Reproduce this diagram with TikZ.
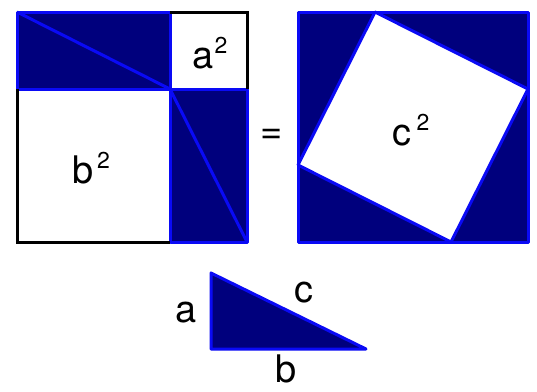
\documentclass[tikz,border=0pt]{standalone}
\usepackage{fontspec}
\setmainfont{TeX Gyre Heros}
\usetikzlibrary{positioning}
\definecolor{navyfill}{RGB}{0,0,125}
\definecolor{edgeblue}{RGB}{10,10,245}
\newcommand{\sqlab}[2]{#1\hspace{#2}\raisebox{15pt}{\fontsize{23}{23}\selectfont 2}}

\begin{document}
\begin{tikzpicture}[x=1pt,y=-1pt,
  dark/.style={fill=navyfill,draw=edgeblue,line width=3pt,line join=round},
  light/.style={fill=white,draw=edgeblue,line width=3pt,line join=round},
  diag/.style={draw=edgeblue,line width=3pt},
  frame/.style={draw=black,line width=3pt,line join=miter},
  lab/.style={font=\fontsize{38}{38}\selectfont,inner sep=0pt,anchor=base}
]
\useasboundingbox[fill=white] (0,0) rectangle (537,391);

% LEFT SQUARE: a^2 + b^2 + four triangles
\coordinate (ltl) at (17,12);
\coordinate (lbr) at (247,242);
\coordinate (lmid) at (170,89);
\fill[dark] (ltl) rectangle (lmid);
\draw[diag] (ltl) -- (lmid);
\fill[dark] (lmid) rectangle (lbr);
\draw[diag] (lmid) -- (lbr);
\draw[frame] (170,12) -- (247,12) -- (247,89);
\draw[frame] (17,89) -- (17,242) -- (170,242);

\node[lab] (asq) at (210,68) {\sqlab{a}{1pt}};
\node[lab] (bsq) at (91,183) {\sqlab{b}{4pt}};

% EQUALS SIGN
\node[lab] (eq) at (272,143) {=};

% RIGHT SQUARE: c^2 + four triangles
\coordinate (rtl) at (298,12);
\coordinate (rbr) at (528,242);
\fill[dark] (rtl) rectangle (rbr);
\coordinate (ctop) at (375,12);
\coordinate (cright) at (528,89);
\coordinate (cbot) at (451,242);
\coordinate (cleft) at (298,165);
\fill[light] (ctop) -- (cright) -- (cbot) -- (cleft) -- cycle;
\node[lab] (csq) at (411,145) {\sqlab{c}{5pt}};

% BOTTOM: the triangle itself
\coordinate (ttop) at (211,273);
\coordinate (tcorner) at (211,349);
\coordinate (tright) at (366,349);
\fill[dark] (ttop) -- (tcorner) -- (tright) -- cycle;
\node[lab] (la) at (186,322) {a};
\node[lab] (lc) at (304,302) {c};
\node[lab] (lb) at (286,382) {b};

\end{tikzpicture}
\end{document}
